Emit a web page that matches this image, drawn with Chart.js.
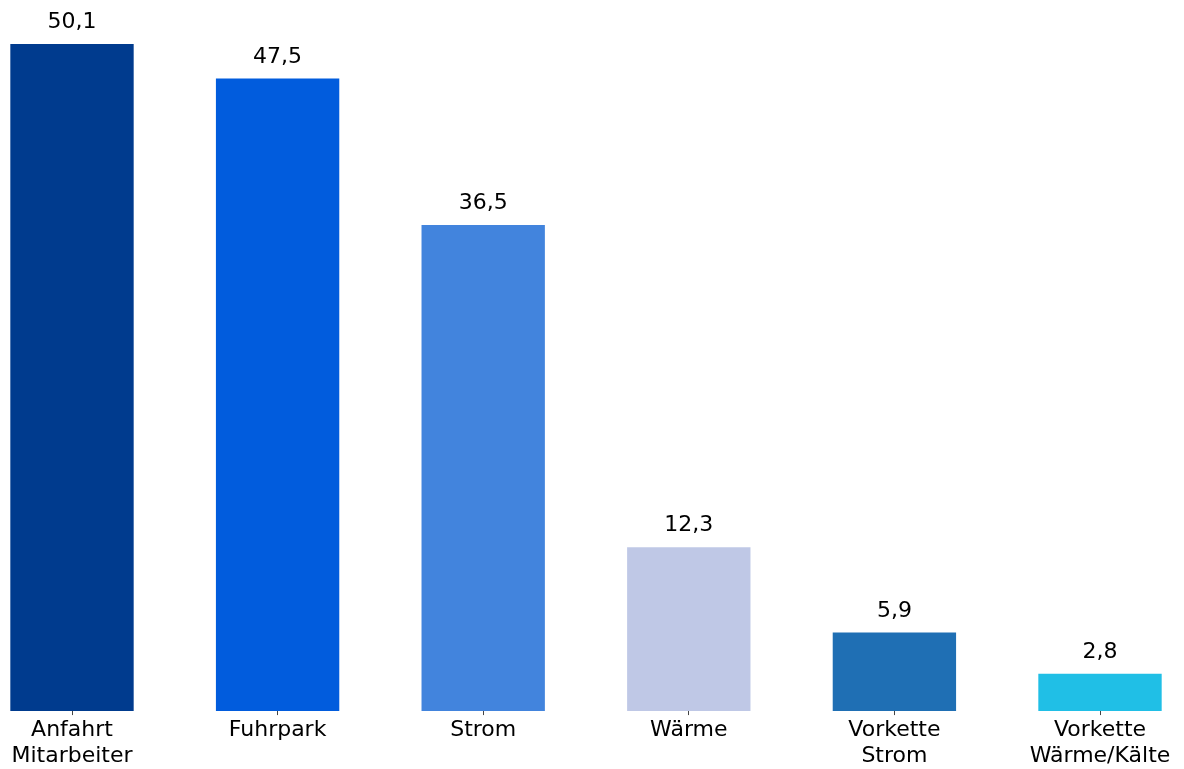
<!DOCTYPE html>
<html>
<head>
<meta charset="utf-8">
<script src="https://cdn.jsdelivr.net/npm/chart.js@4/dist/chart.umd.min.js"></script>
<style>
  html, body { margin: 0; padding: 0; background: #fff; }
  #wrap { width: 1184px; height: 769px; }
</style>
</head>
<body>
<div id="wrap"><canvas id="co2Chart"></canvas></div>
<script>
const categories = [
  ['Anfahrt', 'Mitarbeiter'],
  'Fuhrpark',
  'Strom',
  'Wärme',
  ['Vorkette', 'Strom'],
  ['Vorkette', 'Wärme/Kälte']
];
const values = [50.1, 47.5, 36.5, 12.3, 5.9, 2.8];
const barColors = ['#003B8E', '#015CDD', '#4284DD', '#BFC8E6', '#1F6FB4', '#20BFE6'];

const fmt = v => v.toFixed(1).replace('.', ',');

const valueLabels = {
  id: 'valueLabels',
  afterDatasetsDraw(chart) {
    const ctx = chart.ctx;
    const meta = chart.getDatasetMeta(0);
    ctx.save();
    ctx.font = '22px "DejaVu Sans"';
    ctx.fillStyle = '#000';
    ctx.textAlign = 'center';
    ctx.textBaseline = 'alphabetic';
    meta.data.forEach((bar, i) => {
      ctx.fillText(fmt(values[i]), bar.x, bar.y - 16);
    });
    ctx.restore();
  }
};

new Chart(document.getElementById('co2Chart'), {
  type: 'bar',
  data: {
    labels: categories,
    datasets: [{
      data: values,
      backgroundColor: barColors,
      borderWidth: 0,
      clip: false,
      categoryPercentage: 1,
      barPercentage: 0.6
    }]
  },
  options: {
    responsive: true,
    maintainAspectRatio: false,
    animation: false,
    layout: { padding: { top: 44, left: 72, right: 84, bottom: -2 } },
    plugins: { legend: { display: false }, tooltip: { enabled: false } },
    scales: {
      x: {
        offset: false,
        border: { display: false },
        grid: { offset: false, drawOnChartArea: false, drawTicks: true, tickLength: 4, color: '#444', lineWidth: 1 },
        ticks: { color: '#000', padding: 2, maxRotation: 0, autoSkip: false, font: { family: 'DejaVu Sans', size: 22, lineHeight: 1.18 } }
      },
      y: {
        display: false,
        min: 0,
        max: Math.max(...values)
      }
    }
  },
  plugins: [valueLabels]
});
</script>
</body>
</html>
